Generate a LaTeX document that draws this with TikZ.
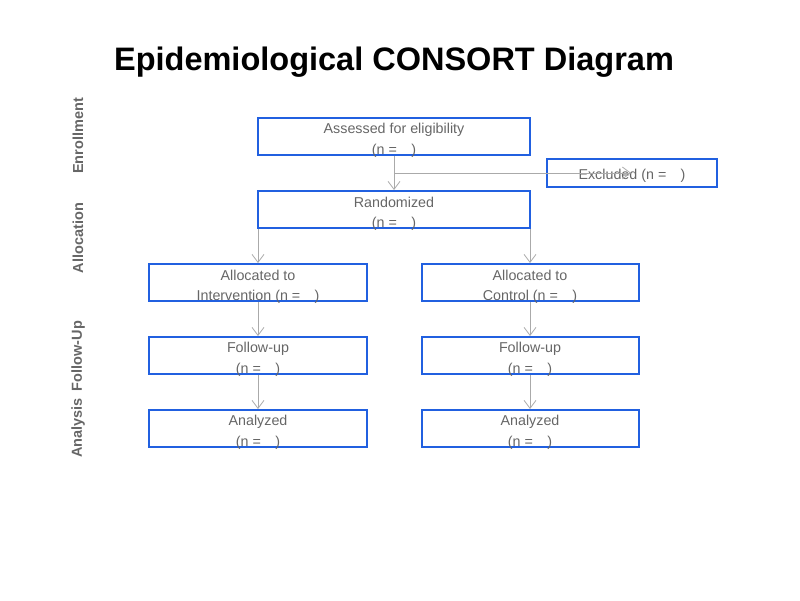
\documentclass[tikz,border=0pt]{standalone}
\usepackage{fontspec}
\setmainfont{Liberation Sans}
\usetikzlibrary{arrows.meta}
\definecolor{bx}{HTML}{2160E0}
\definecolor{tx}{HTML}{666666}
\definecolor{ar}{HTML}{AAAAAA}
\begin{document}
\begin{tikzpicture}[x=1pt,y=-1pt,
 box/.style={draw=bx,line width=1.8pt,inner sep=0pt},
 t/.style={text=tx,font=\fontsize{14.3}{16}\selectfont,inner sep=0pt},
 side/.style={text=tx,font=\bfseries\fontsize{14.5}{16}\selectfont,rotate=90,inner sep=0pt},
 arr/.style={draw=ar,line width=0.8pt,-{Straight Barb[length=8pt,width=12pt]}}]
\useasboundingbox (0,0) rectangle (800,600);
\node[font=\bfseries\fontsize{32.5}{36}\selectfont] (title) at (394,62) {Epidemiological CONSORT Diagram};
\node[side] (s1) at (78,136) {Enrollment};
\node[side] (s2) at (78,238) {Allocation};
\node[side] (s3) at (78,356) {Follow-Up};
\node[side] (s4) at (78,428) {Analysis};
% boxes
\draw[box] (258,118) rectangle (530,155);
\draw[box] (547,159) rectangle (717,187);
\draw[box] (258,191) rectangle (530,228);
\foreach \y in {264,337,410}{
 \draw[box] (149,\y) rectangle (367,\y+37);
 \draw[box] (422,\y) rectangle (639,\y+37);}
\node[t] (t1) at (394,129.5) {Assessed for eligibility};
\node[t] (t1b) at (394,150.5) {(n = \ \ \,)};
\node[t] (t2) at (394,202.5) {Randomized};
\node[t] (t2b) at (394,223.5) {(n = \ \ \,)};
\node[t] (ex) at (632,176) {Excluded (n = \ \ \,)};
\node[t] (ai) at (258,275.5) {Allocated to};
\node[t] (aib) at (258,296.5) {Intervention (n = \ \ \,)};
\node[t] (ac) at (530,275.5) {Allocated to};
\node[t] (acb) at (530,296.5) {Control (n = \ \ \,)};
\node[t] (fi) at (258,348.5) {Follow-up};
\node[t] (fib) at (258,369.5) {(n = \ \ \,)};
\node[t] (fc) at (530,348.5) {Follow-up};
\node[t] (fcb) at (530,369.5) {(n = \ \ \,)};
\node[t] (ni) at (258,421.5) {Analyzed};
\node[t] (nib) at (258,442.5) {(n = \ \ \,)};
\node[t] (nc) at (530,421.5) {Analyzed};
\node[t] (ncb) at (530,442.5) {(n = \ \ \,)};
% connectors
\coordinate (p1) at (394,156); \coordinate (p2) at (394,190);
\coordinate (e1) at (394,173); \coordinate (e2) at (631,173);
\draw[arr] (p1) -- (p2);
\draw[arr] (e1) -- (e2);
\foreach \x in {258,530}{
 \draw[arr] (\x,229) -- (\x,263);
 \draw[arr] (\x,302) -- (\x,336);
 \draw[arr] (\x,375) -- (\x,409);}
\end{tikzpicture}
\end{document}
